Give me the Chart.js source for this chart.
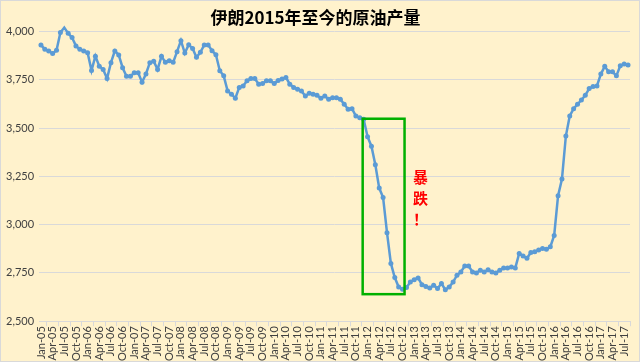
<!DOCTYPE html>
<html lang="zh">
<head>
<meta charset="UTF-8">
<script src="https://cdn.jsdelivr.net/npm/chart.js"></script>
<title>伊朗原油产量</title>
<style>
    body { margin: 0; background: #fff; }
    .box {
        width: 640px; height: 362px; box-sizing: border-box;
        border: 1px solid #d9d9d9; background: #fff2cc;
    }
</style>
</head>
<body>
<div class="box">
    <canvas id="myChart" width="638" height="360"></canvas>
</div>

<script>
// months Jan-05 .. Aug-17
const mes = ['Jan','Feb','Mar','Apr','May','Jun','Jul','Aug','Sep','Oct','Nov','Dec'];
const meses = [];
for (let a = 5; a <= 17; a++) {
    for (let m = 0; m < 12; m++) {
        if (a == 17 && m > 7) break;
        meses.push(mes[m] + '-' + String(a).padStart(2, '0'));
    }
}

// 千桶/日
const producao = [
    3930, 3907, 3899, 3886, 3902, 3994, 4020, 3990, 3968, 3925, 3907, 3899,
    3890, 3798, 3872, 3820, 3803, 3756, 3838, 3899, 3878, 3812, 3768, 3768,
    3786, 3786, 3737, 3780, 3838, 3846, 3803, 3871, 3840, 3848, 3840, 3895,
    3952, 3888, 3931, 3912, 3866, 3892, 3930, 3930, 3900, 3879, 3796, 3770,
    3692, 3675, 3654, 3710, 3718, 3745, 3756, 3756, 3727, 3730, 3744, 3744,
    3730, 3746, 3753, 3762, 3727, 3710, 3701, 3692, 3666, 3680, 3675, 3669,
    3654, 3666, 3649, 3657, 3657, 3649, 3623, 3597, 3600, 3562, 3553, 3545,
    3455, 3406, 3310, 3189, 3140, 2958, 2799, 2726, 2677, 2665, 2674, 2703,
    2715, 2724, 2689, 2680, 2672, 2686, 2669, 2695, 2663, 2677, 2703, 2738,
    2755, 2786, 2786, 2755, 2750, 2764, 2755, 2767, 2755, 2750, 2764, 2776,
    2776, 2781, 2776, 2851, 2838, 2826, 2856, 2859, 2868, 2877, 2872, 2885,
    2944, 3150, 3236, 3458, 3562, 3600, 3623, 3645, 3669, 3704, 3715, 3718,
    3779, 3819, 3791, 3791, 3770, 3822, 3831, 3826
];

const yTicks = [2500, 2750, 3000, 3250, 3500, 3750, 4000];

// green box: Dec-11 .. Oct-12, 3548 .. 2640
const caixa = { de: 83, ate: 93, topo: 3548, base: 2640 };
const aviso = ['暴', '跌', '！'];
</script>

<script>
const destaque = {
    id: 'destaque',
    afterDatasetsDraw(chart) {
        const ctx = chart.ctx;
        const x = chart.scales.x, y = chart.scales.y;
        const x1 = x.getPixelForValue(caixa.de) - 1;
        const x2 = x.getPixelForValue(caixa.ate) + 2;
        const y1 = y.getPixelForValue(caixa.topo);
        const y2 = y.getPixelForValue(caixa.base);
        ctx.save();
        ctx.strokeStyle = '#00b000';
        ctx.lineWidth = 2.5;
        ctx.strokeRect(x1, y1, x2 - x1, y2 - y1);

        ctx.fillStyle = '#ff0000';
        ctx.font = 'bold 15px "Noto Sans CJK SC"';
        ctx.textAlign = 'center';
        ctx.textBaseline = 'middle';
        const cx = x2 + 16;
        let cy = y.getPixelForValue(3243);
        for (const c of aviso) {
            ctx.fillText(c, cx, cy);
            cy += 21;
        }
        ctx.restore();
    }
};

const myChart = new Chart(document.getElementById('myChart'), {
    type: 'line',
    data: {
        labels: meses,
        datasets: [{
            data: producao,
            borderColor: '#5b9bd5',
            backgroundColor: '#5b9bd5',
            borderWidth: 2.5,
            pointRadius: 2.5,
            pointBorderWidth: 0,
            pointHoverRadius: 3,
            tension: 0,
            clip: false
        }]
    },
    options: {
        responsive: false,
        animation: false,
        layout: { padding: { left: 0, right: 9, top: 0, bottom: 0 } },
        plugins: {
            legend: { display: false },
            tooltip: { enabled: false },
            title: {
                display: true,
                text: '伊朗2015年至今的原油产量',
                color: '#000',
                font: { family: '"Noto Sans CJK SC"', size: 17, weight: 'bold' },
                padding: { top: 6, bottom: 4 }
            }
        },
        scales: {
            x: {
                offset: true,
                grid: {
                    offset: true,
                    drawOnChartArea: false,
                    drawTicks: true,
                    tickLength: 5,
                    color: '#d9d9d9'
                },
                border: { color: '#d9d9d9' },
                ticks: {
                    autoSkip: false,
                    minRotation: 90,
                    maxRotation: 90,
                    padding: 0,
                    color: '#404040',
                    font: { family: 'Lato', size: 11 },
                    callback: function (v, i) {
                        return i % 3 == 0 ? meses[i] : null;
                    }
                }
            },
            y: {
                min: 2500,
                max: 4000,
                afterBuildTicks: function (ax) {
                    ax.ticks = yTicks.map(v => ({ value: v }));
                },
                grid: { color: '#d9d9d9', drawTicks: false },
                border: { display: false },
                ticks: {
                    padding: 5,
                    color: '#404040',
                    font: { family: 'Lato', size: 11 },
                    callback: v => v.toLocaleString('en-US')
                }
            }
        }
    },
    plugins: [destaque]
});
</script>
</body>
</html>
